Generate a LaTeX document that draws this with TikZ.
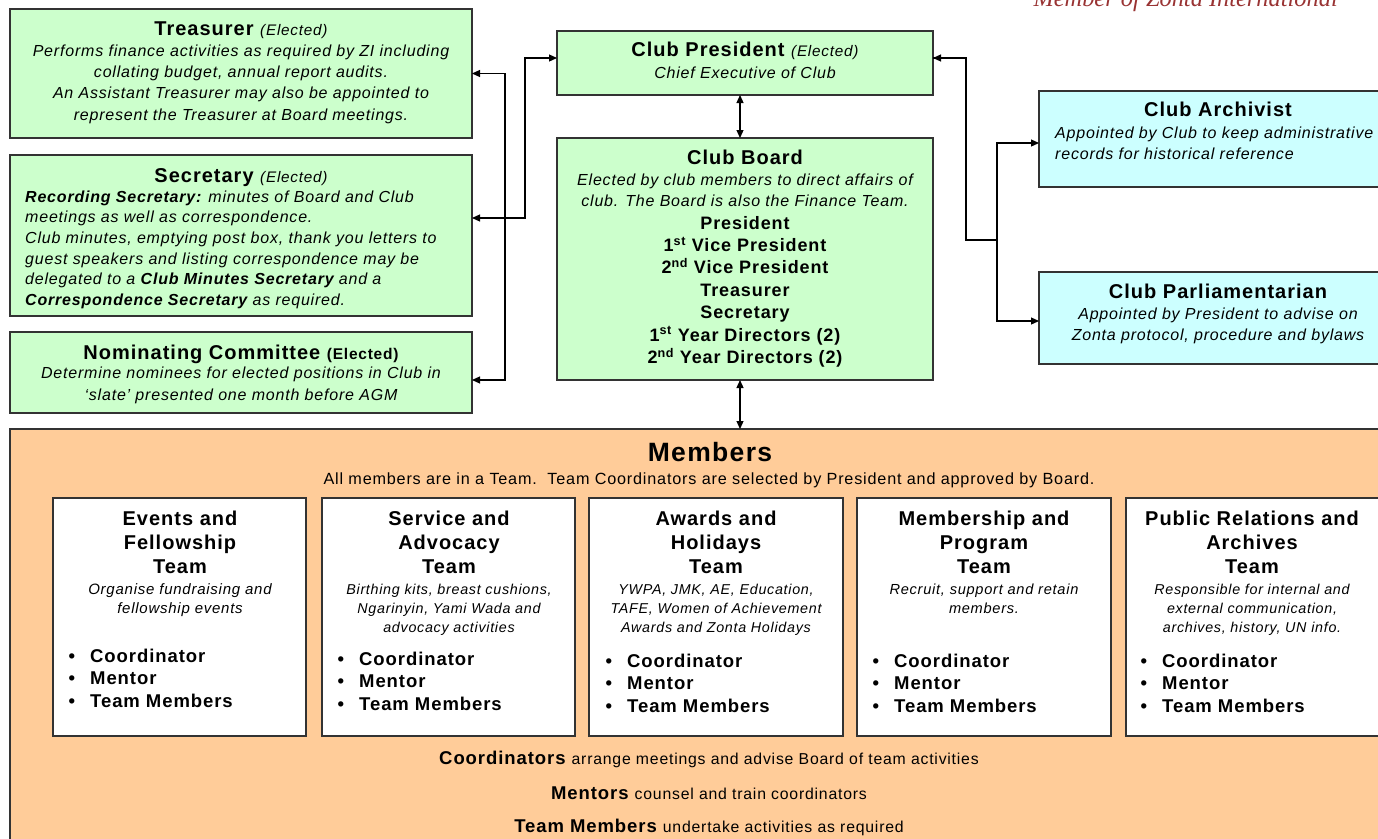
\documentclass[tikz,border=0pt]{standalone}
\usepackage{fontspec}
\setmainfont{Liberation Sans}[LetterSpace=5]
\newfontfamily\serifit{Liberation Serif}
\usetikzlibrary{arrows.meta,shadows}
\definecolor{grn}{HTML}{CCFFCC}
\definecolor{cyn}{HTML}{CCFFFF}
\definecolor{org}{HTML}{FFCC99}
\definecolor{zred}{HTML}{993333}
\definecolor{edge}{HTML}{333333}
\newcommand\fs[2]{\fontsize{#1}{#2}\selectfont}
\newcommand\blt{\llap{\textbullet\hspace{15pt}}}
\begin{document}
\begin{tikzpicture}[x=1pt,y=-1pt,
  box/.style={draw=edge, line width=1.4pt, anchor=north west, inner sep=0pt, outer sep=0pt,
    drop shadow={shadow xshift=1.3pt, shadow yshift=-1.3pt, fill=black!45, opacity=1}},
  gbox/.style={box, fill=grn},
  cbox/.style={box, fill=cyn},
  obox/.style={box, fill=org},
  wbox/.style={box, fill=white, minimum height=238pt},
  txt/.style={anchor=base, inner sep=0pt, align=center},
  ltxt/.style={anchor=base west, inner sep=0pt, align=left},
  body/.style={font=\fs{16}{21.3}\itshape},
  ttl/.style={font=\fs{20}{24}\bfseries},
  tdesc/.style={font=\fs{14.3}{19}\itshape},
  blist/.style={ltxt, font=\fs{18.5}{22.5}\bfseries},
  conn/.style={draw=black, line width=1.2pt},
  both/.style={{Triangle[length=8pt,width=7pt]}-{Triangle[length=8pt,width=7pt]}},
  tip/.style={-{Triangle[length=8pt,width=7pt]}}
]
\useasboundingbox (0,0) rectangle (1378,838);
\clip (0,0) rectangle (1378,838);
\fill[white] (0,0) rectangle (1378,838);

% header text (cut off at top)
\node[anchor=base east, inner sep=0pt, text=zred, font=\serifit\itshape\fs{24.4}{24.4}] (zi) at (1338,6) {Member of Zonta International};

% left column
\node[gbox, minimum width=462pt, minimum height=129pt] (treas) at (10,9) {};
\node[txt] (treastl) at (241,35) {\fs{20}{20}\bfseries Treasurer \fs{15.3}{15.3}\mdseries\itshape(Elected)};
\node[txt, body] (treastx) at (241,120) {Performs finance activities as required by ZI including\\collating budget, annual report audits.\\An Assistant Treasurer may also be appointed to\\represent the Treasurer at Board meetings.};

\node[gbox, minimum width=462pt, minimum height=161pt] (sec) at (10,155) {};
\node[txt] (sectl) at (241,182) {\fs{20}{20}\bfseries Secretary \fs{15.3}{15.3}\mdseries\itshape(Elected)};
\node[ltxt, font=\fs{16}{20.7}\itshape] (sectx) at (25,305.5) {\textbf{Recording Secretary:} minutes of Board and Club\\meetings as well as correspondence.\\Club minutes, emptying post box, thank you letters to\\guest speakers and listing correspondence may be\\delegated to a \textbf{Club Minutes Secretary} and a\\\textbf{Correspondence Secretary} as required.};

\node[gbox, minimum width=462pt, minimum height=81pt] (nom) at (10,332) {};
\node[txt] (nomtl) at (241,359) {\fs{20}{20}\bfseries Nominating Committee \fs{15.5}{15.5}(Elected)};
\node[txt, body] (nomtx) at (241,400) {Determine nominees for elected positions in Club in\\`slate' presented one month before AGM};

% centre column
\node[gbox, minimum width=376pt, minimum height=64pt] (pres) at (557,31) {};
\node[txt] (prestl) at (745,56) {\fs{20}{20}\bfseries Club President \fs{15.3}{15.3}\mdseries\itshape(Elected)};
\node[txt, body] (prestx) at (745,78) {Chief Executive of Club};

\node[gbox, minimum width=376pt, minimum height=242pt] (board) at (557,138) {};
\node[txt, font=\fs{20}{20}\bfseries] (boardtl) at (745,164) {Club Board};
\node[txt, body] (boardtx) at (745,206.3) {Elected by club members to direct affairs of\\club. The Board is also the Finance Team.};
\node[txt, font=\fs{18}{22.4}\bfseries] (boardls) at (745,363.4) {President\\1\textsuperscript{st} Vice President\\2\textsuperscript{nd} Vice President\\Treasurer\\Secretary\\1\textsuperscript{st} Year Directors (2)\\2\textsuperscript{nd} Year Directors (2)};

% right column
\node[cbox, minimum width=358pt, minimum height=96pt] (arch) at (1039,91) {};
\node[txt, font=\fs{20}{20}\bfseries] (archtl) at (1218,116) {Club Archivist};
\node[ltxt, body] (archtx) at (1055,159.5) {Appointed by Club to keep administrative\\records for historical reference};

\node[cbox, minimum width=358pt, minimum height=92pt] (parl) at (1039,272) {};
\node[txt, font=\fs{20}{20}\bfseries] (parltl) at (1218,298) {Club Parliamentarian};
\node[txt, body] (parltx) at (1218,340.5) {Appointed by President to advise on\\Zonta protocol, procedure and bylaws};

% members
\node[obox, minimum width=1400pt, minimum height=430pt] (mem) at (10,429) {};
\node[txt, font=\fs{26.5}{26.5}\bfseries] (memtl) at (710,461) {Members};
\node[txt, font=\fs{16.2}{16.2}] (memtx) at (709,484) {All members are in a Team.\ \ Team Coordinators are selected by President and approved by Board.};

\node[wbox, minimum width=253pt] (t1) at (53,498) {};
\node[wbox, minimum width=253pt] (t2) at (322,498) {};
\node[wbox, minimum width=254pt] (t3) at (589,498) {};
\node[wbox, minimum width=254pt] (t4) at (857,498) {};
\node[wbox, minimum width=254pt] (t5) at (1126,498) {};

\node[txt, ttl] (t1tl) at (180,573) {Events and\\Fellowship\\Team};
\node[txt, font=\fs{15}{19}\itshape] (t1tx) at (180,613) {Organise fundraising and\\fellowship events};
\node[blist] (t1ls) at (90,707) {\blt Coordinator\\\blt Mentor\\\blt Team Members};

\node[txt, ttl] (t2tl) at (449,573) {Service and\\Advocacy\\Team};
\node[txt, tdesc] (t2tx) at (449,632) {Birthing kits, breast cushions,\\Ngarinyin, Yami Wada and\\advocacy activities};
\node[blist] (t2ls) at (359,710) {\blt Coordinator\\\blt Mentor\\\blt Team Members};

\node[txt, ttl] (t3tl) at (716,573) {Awards and\\Holidays\\Team};
\node[txt, tdesc] (t3tx) at (716,632) {YWPA, JMK, AE, Education,\\TAFE, Women of Achievement\\Awards and Zonta Holidays};
\node[blist] (t3ls) at (627,712) {\blt Coordinator\\\blt Mentor\\\blt Team Members};

\node[txt, ttl] (t4tl) at (984,573) {Membership and\\Program\\Team};
\node[txt, font=\fs{14.6}{19}\itshape] (t4tx) at (984,613) {Recruit, support and retain\\members.};
\node[blist] (t4ls) at (894,712) {\blt Coordinator\\\blt Mentor\\\blt Team Members};

\node[txt, ttl] (t5tl) at (1252,573) {Public Relations and\\Archives\\Team};
\node[txt, tdesc] (t5tx) at (1252,632) {Responsible for internal and\\external communication,\\archives, history, UN info.};
\node[blist] (t5ls) at (1162,712) {\blt Coordinator\\\blt Mentor\\\blt Team Members};

\node[txt] (b1) at (709,764) {\fs{18.5}{18.5}\bfseries Coordinators \fs{15.8}{15.8}\mdseries arrange meetings and advise Board of team activities};
\node[txt] (b2) at (709,799) {\fs{18.5}{18.5}\bfseries Mentors \fs{15.8}{15.8}\mdseries counsel and train coordinators};
\node[txt] (b3) at (709,832) {\fs{18.5}{18.5}\bfseries Team Members \fs{15.8}{15.8}\mdseries undertake activities as required};

% connectors
\draw[conn, both] (treas.east) -- ++(33,0) |- ([yshift=-7.5pt]nom.east);
\draw[conn, both] ([yshift=5pt]pres.west) -- ++(-32,0) |- ([yshift=17.5pt]sec.east);
\draw[conn] ([yshift=5pt]pres.east) -- ++(33,0) |- (997,240) coordinate (junc);
\draw[conn, {Triangle[length=8pt,width=7pt]}-] ([yshift=5pt]pres.east) -- ++(10,0);
\draw[conn, tip] (junc) |- ([yshift=-4pt]arch.west);
\draw[conn, tip] (junc) |- ([yshift=-3pt]parl.west);
\draw[conn, both] ([xshift=-5pt]pres.south) -- ([xshift=-5pt]board.north);
\draw[conn, both] ([xshift=-5pt]board.south) -- ([xshift=-5pt]board.south |- mem.north);
\end{tikzpicture}
\end{document}
